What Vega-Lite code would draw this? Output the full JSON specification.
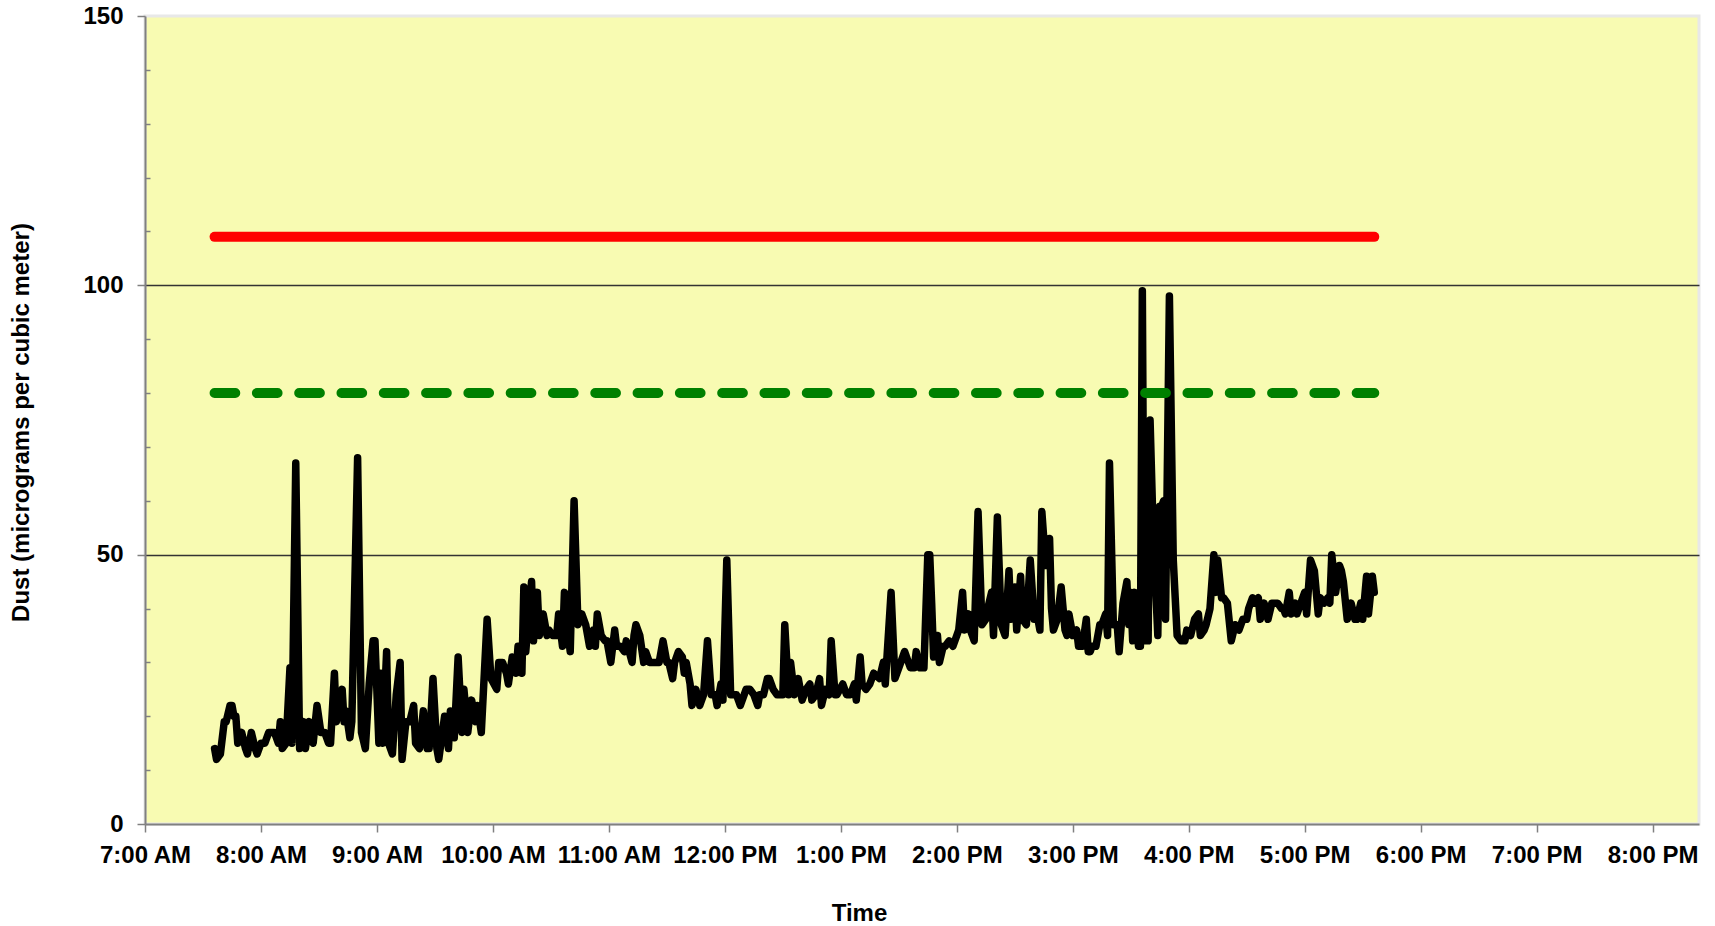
{
  "$schema": "https://vega.github.io/schema/vega-lite/v6.json",
  "width": 1554,
  "height": 808,
  "autosize": {"type": "none"},
  "padding": {"left": 145, "top": 16, "right": 16, "bottom": 102},
  "background": "white",
  "config": {
    "view": {"fill": "#F8FBB2", "stroke": "#E8E8E8", "strokeWidth": 3},
    "axis": {
      "labelFont": "Liberation Sans", "labelFontSize": 24, "labelFontWeight": "bold", "labelColor": "black",
      "titleFont": "Liberation Sans", "titleFontSize": 24, "titleFontWeight": "bold", "titleColor": "black",
      "domainColor": "#808080", "domainWidth": 2, "tickColor": "#808080", "tickWidth": 1.5, "tickSize": 8
    }
  },
  "encoding": {
    "x": {
      "field": "t", "type": "temporal",
      "scale": {"type": "utc", "domain": [
        {"year": 1900, "month": 1, "date": 1, "hours": 7, "minutes": 0, "utc": true},
        {"year": 1900, "month": 1, "date": 1, "hours": 20, "minutes": 24, "utc": true}
      ]},
      "axis": {
        "values": [
          {"year": 1900, "month": 1, "date": 1, "hours": 7, "utc": true},
          {"year": 1900, "month": 1, "date": 1, "hours": 8, "utc": true},
          {"year": 1900, "month": 1, "date": 1, "hours": 9, "utc": true},
          {"year": 1900, "month": 1, "date": 1, "hours": 10, "utc": true},
          {"year": 1900, "month": 1, "date": 1, "hours": 11, "utc": true},
          {"year": 1900, "month": 1, "date": 1, "hours": 12, "utc": true},
          {"year": 1900, "month": 1, "date": 1, "hours": 13, "utc": true},
          {"year": 1900, "month": 1, "date": 1, "hours": 14, "utc": true},
          {"year": 1900, "month": 1, "date": 1, "hours": 15, "utc": true},
          {"year": 1900, "month": 1, "date": 1, "hours": 16, "utc": true},
          {"year": 1900, "month": 1, "date": 1, "hours": 17, "utc": true},
          {"year": 1900, "month": 1, "date": 1, "hours": 18, "utc": true},
          {"year": 1900, "month": 1, "date": 1, "hours": 19, "utc": true},
          {"year": 1900, "month": 1, "date": 1, "hours": 20, "utc": true}
        ],
        "labelExpr": "utcFormat(datum.value, '%-I:%M %p')",
        "labelOverlap": false, "labelFlush": false, "labelBound": false,
        "labelPadding": 11, "grid": false,
        "title": "Time", "titleX": 714, "titleY": 96, "titleBaseline": "alphabetic", "titleAlign": "center", "titleAngle": 0
      }
    }
  },
  "layer": [
    {
      "data": {
        "values": [
          {"t":"07:36","v":14},{"t":"07:37","v":12},{"t":"07:39","v":13},{"t":"07:41","v":19},{"t":"07:42","v":19},
          {"t":"07:44","v":22},{"t":"07:45","v":22},{"t":"07:46","v":20},{"t":"07:47","v":20},{"t":"07:48","v":15},
          {"t":"07:50","v":17},{"t":"07:52","v":14},{"t":"07:53","v":13},{"t":"07:55","v":17},{"t":"07:57","v":14},
          {"t":"07:58","v":13},{"t":"08:00","v":15},{"t":"08:02","v":15},{"t":"08:04","v":17},{"t":"08:07","v":17},
          {"t":"08:09","v":15},{"t":"08:10","v":19},{"t":"08:11","v":14},{"t":"08:13","v":15},{"t":"08:15","v":29},
          {"t":"08:16","v":15},{"t":"08:18","v":67},{"t":"08:20","v":14},{"t":"08:22","v":19},{"t":"08:23","v":14},
          {"t":"08:25","v":19},{"t":"08:27","v":15},{"t":"08:29","v":22},{"t":"08:31","v":17},{"t":"08:33","v":17},
          {"t":"08:35","v":15},{"t":"08:36","v":15},{"t":"08:38","v":28},{"t":"08:39","v":19},{"t":"08:42","v":25},
          {"t":"08:43","v":19},{"t":"08:44","v":21},{"t":"08:46","v":16},{"t":"08:47","v":19},{"t":"08:50","v":68},
          {"t":"08:52","v":17},{"t":"08:54","v":14},{"t":"08:56","v":26},{"t":"08:58","v":34},{"t":"08:59","v":34},
          {"t":"09:01","v":15},{"t":"09:02","v":28},{"t":"09:03","v":15},{"t":"09:05","v":32},{"t":"09:06","v":15},
          {"t":"09:08","v":13},{"t":"09:10","v":24},{"t":"09:12","v":30},{"t":"09:13","v":12},{"t":"09:15","v":19},
          {"t":"09:17","v":19},{"t":"09:19","v":22},{"t":"09:20","v":15},{"t":"09:22","v":14},{"t":"09:24","v":21},
          {"t":"09:26","v":14},{"t":"09:27","v":14},{"t":"09:29","v":27},{"t":"09:31","v":14},{"t":"09:32","v":12},
          {"t":"09:35","v":20},{"t":"09:37","v":14},{"t":"09:38","v":21},{"t":"09:40","v":16},{"t":"09:42","v":31},
          {"t":"09:44","v":17},{"t":"09:45","v":25},{"t":"09:47","v":17},{"t":"09:49","v":23},{"t":"09:51","v":19},
          {"t":"09:52","v":22},{"t":"09:54","v":17},{"t":"09:57","v":38},{"t":"09:59","v":27},{"t":"10:02","v":25},
          {"t":"10:03","v":30},{"t":"10:05","v":30},{"t":"10:07","v":28},{"t":"10:08","v":26},{"t":"10:10","v":31},
          {"t":"10:12","v":28},{"t":"10:13","v":33},{"t":"10:15","v":28},{"t":"10:16","v":44},{"t":"10:17","v":32},
          {"t":"10:19","v":41},{"t":"10:20","v":45},{"t":"10:21","v":34},{"t":"10:23","v":43},{"t":"10:24","v":35},
          {"t":"10:26","v":39},{"t":"10:28","v":35},{"t":"10:29","v":36},{"t":"10:31","v":35},{"t":"10:33","v":35},
          {"t":"10:34","v":39},{"t":"10:36","v":33},{"t":"10:37","v":43},{"t":"10:39","v":35},{"t":"10:40","v":32},
          {"t":"10:42","v":60},{"t":"10:44","v":37},{"t":"10:46","v":39},{"t":"10:48","v":37},{"t":"10:50","v":33},
          {"t":"10:52","v":36},{"t":"10:53","v":33},{"t":"10:54","v":39},{"t":"10:56","v":35},{"t":"10:58","v":34},
          {"t":"10:59","v":34},{"t":"11:01","v":30},{"t":"11:03","v":36},{"t":"11:04","v":33},{"t":"11:06","v":33},
          {"t":"11:08","v":32},{"t":"11:09","v":34},{"t":"11:12","v":30},{"t":"11:13","v":35},{"t":"11:14","v":37},
          {"t":"11:16","v":35},{"t":"11:18","v":30},{"t":"11:19","v":32},{"t":"11:21","v":30},{"t":"11:23","v":30},
          {"t":"11:24","v":30},{"t":"11:26","v":30},{"t":"11:28","v":34},{"t":"11:30","v":30},{"t":"11:31","v":30},
          {"t":"11:33","v":27},{"t":"11:34","v":30},{"t":"11:36","v":32},{"t":"11:38","v":31},{"t":"11:39","v":28},
          {"t":"11:40","v":30},{"t":"11:42","v":26},{"t":"11:43","v":22},{"t":"11:45","v":25},{"t":"11:47","v":22},
          {"t":"11:49","v":24},{"t":"11:51","v":34},{"t":"11:53","v":24},{"t":"11:55","v":24},{"t":"11:56","v":22},
          {"t":"11:58","v":26},{"t":"11:59","v":23},{"t":"12:01","v":49},{"t":"12:03","v":24},{"t":"12:04","v":24},
          {"t":"12:06","v":24},{"t":"12:08","v":22},{"t":"12:10","v":24},{"t":"12:11","v":25},{"t":"12:13","v":25},
          {"t":"12:15","v":24},{"t":"12:17","v":22},{"t":"12:18","v":24},{"t":"12:20","v":24},{"t":"12:22","v":27},
          {"t":"12:23","v":27},{"t":"12:25","v":25},{"t":"12:27","v":24},{"t":"12:28","v":24},{"t":"12:30","v":24},
          {"t":"12:31","v":37},{"t":"12:33","v":24},{"t":"12:34","v":30},{"t":"12:36","v":24},{"t":"12:38","v":27},
          {"t":"12:40","v":23},{"t":"12:42","v":25},{"t":"12:44","v":26},{"t":"12:45","v":23},{"t":"12:47","v":24},
          {"t":"12:49","v":27},{"t":"12:50","v":22},{"t":"12:52","v":25},{"t":"12:54","v":24},{"t":"12:55","v":34},
          {"t":"12:57","v":24},{"t":"12:58","v":24},{"t":"13:01","v":26},{"t":"13:03","v":24},{"t":"13:05","v":24},
          {"t":"13:07","v":26},{"t":"13:08","v":23},{"t":"13:10","v":31},{"t":"13:11","v":26},{"t":"13:13","v":25},
          {"t":"13:15","v":26},{"t":"13:17","v":28},{"t":"13:20","v":27},{"t":"13:22","v":30},{"t":"13:23","v":26},
          {"t":"13:26","v":43},{"t":"13:28","v":27},{"t":"13:29","v":28},{"t":"13:31","v":30},{"t":"13:33","v":32},
          {"t":"13:35","v":30},{"t":"13:36","v":29},{"t":"13:38","v":29},{"t":"13:39","v":32},{"t":"13:41","v":29},
          {"t":"13:43","v":29},{"t":"13:45","v":50},{"t":"13:46","v":50},{"t":"13:47","v":41},{"t":"13:48","v":31},
          {"t":"13:50","v":35},{"t":"13:51","v":30},{"t":"13:53","v":33},{"t":"13:54","v":33},{"t":"13:56","v":34},
          {"t":"13:58","v":33},{"t":"14:00","v":35},{"t":"14:01","v":36},{"t":"14:03","v":43},{"t":"14:04","v":36},
          {"t":"14:06","v":39},{"t":"14:07","v":36},{"t":"14:09","v":34},{"t":"14:11","v":58},{"t":"14:13","v":37},
          {"t":"14:15","v":38},{"t":"14:16","v":40},{"t":"14:18","v":43},{"t":"14:19","v":35},{"t":"14:21","v":57},
          {"t":"14:23","v":37},{"t":"14:25","v":35},{"t":"14:27","v":47},{"t":"14:28","v":38},{"t":"14:30","v":44},
          {"t":"14:31","v":36},{"t":"14:33","v":46},{"t":"14:34","v":38},{"t":"14:36","v":37},{"t":"14:38","v":49},
          {"t":"14:40","v":38},{"t":"14:42","v":38},{"t":"14:43","v":36},{"t":"14:44","v":58},{"t":"14:46","v":48},
          {"t":"14:48","v":53},{"t":"14:49","v":40},{"t":"14:50","v":36},{"t":"14:52","v":38},{"t":"14:54","v":44},
          {"t":"14:56","v":36},{"t":"14:57","v":35},{"t":"14:58","v":39},{"t":"15:00","v":35},{"t":"15:02","v":36},
          {"t":"15:03","v":33},{"t":"15:05","v":33},{"t":"15:07","v":38},{"t":"15:08","v":32},{"t":"15:09","v":32},
          {"t":"15:10","v":33},{"t":"15:12","v":33},{"t":"15:14","v":37},{"t":"15:15","v":37},{"t":"15:17","v":39},
          {"t":"15:18","v":35},{"t":"15:19","v":67},{"t":"15:21","v":37},{"t":"15:23","v":37},{"t":"15:24","v":32},
          {"t":"15:26","v":41},{"t":"15:28","v":45},{"t":"15:29","v":37},{"t":"15:30","v":43},{"t":"15:31","v":34},
          {"t":"15:32","v":43},{"t":"15:34","v":33},{"t":"15:35","v":33},{"t":"15:36","v":99},{"t":"15:37","v":34},
          {"t":"15:38","v":68},{"t":"15:39","v":34},{"t":"15:40","v":75},{"t":"15:42","v":49},{"t":"15:43","v":43},
          {"t":"15:44","v":35},{"t":"15:45","v":59},{"t":"15:46","v":59},{"t":"15:47","v":60},{"t":"15:48","v":38},
          {"t":"15:50","v":98},{"t":"15:52","v":49},{"t":"15:53","v":42},{"t":"15:54","v":35},{"t":"15:56","v":34},
          {"t":"15:58","v":34},{"t":"15:59","v":36},{"t":"16:01","v":35},{"t":"16:03","v":38},{"t":"16:05","v":39},
          {"t":"16:06","v":35},{"t":"16:08","v":36},{"t":"16:09","v":37},{"t":"16:11","v":40},{"t":"16:13","v":50},
          {"t":"16:14","v":43},{"t":"16:15","v":49},{"t":"16:17","v":42},{"t":"16:18","v":42},{"t":"16:20","v":41},
          {"t":"16:22","v":34},{"t":"16:24","v":37},{"t":"16:26","v":36},{"t":"16:28","v":38},{"t":"16:30","v":38},
          {"t":"16:31","v":40},{"t":"16:33","v":42},{"t":"16:34","v":41},{"t":"16:36","v":42},{"t":"16:37","v":38},
          {"t":"16:39","v":41},{"t":"16:41","v":38},{"t":"16:43","v":41},{"t":"16:44","v":41},{"t":"16:46","v":41},
          {"t":"16:48","v":40},{"t":"16:49","v":40},{"t":"16:50","v":39},{"t":"16:52","v":43},{"t":"16:53","v":39},
          {"t":"16:55","v":41},{"t":"16:56","v":39},{"t":"16:58","v":41},{"t":"17:00","v":43},{"t":"17:01","v":39},
          {"t":"17:03","v":49},{"t":"17:05","v":47},{"t":"17:07","v":39},{"t":"17:08","v":42},{"t":"17:10","v":41},
          {"t":"17:12","v":42},{"t":"17:13","v":41},{"t":"17:14","v":50},{"t":"17:16","v":43},{"t":"17:18","v":48},
          {"t":"17:19","v":47},{"t":"17:20","v":45},{"t":"17:22","v":38},{"t":"17:24","v":41},{"t":"17:26","v":38},
          {"t":"17:27","v":38},{"t":"17:29","v":41},{"t":"17:30","v":38},{"t":"17:32","v":46},{"t":"17:33","v":39},
          {"t":"17:35","v":46},{"t":"17:36","v":43}
        ],
        "format": {"parse": {"t": "utc:'%H:%M'"}}
      },
      "mark": {"type": "line", "color": "black", "strokeWidth": 7.5, "strokeJoin": "round", "strokeCap": "round"},
      "encoding": {
        "y": {
          "field": "v", "type": "quantitative",
          "scale": {"domain": [0, 150], "nice": false, "zero": true},
          "axis": {
            "orient": "left",
            "values": [0, 50, 100, 150],
            "tickSize": 8, "labelPadding": 14,
            "grid": true, "gridColor": "#333333", "gridWidth": 1.5,
            "gridOpacity": {"condition": {"test": "datum.value == 50 || datum.value == 100", "value": 1}, "value": 0},
            "title": "Dust (micrograms per cubic meter)",
            "titleX": -117, "titleY": 406, "titleAngle": -90, "titleBaseline": "alphabetic", "titleAlign": "center"
          }
        }
      }
    },
    {
      "data": {"values": [{"t": "07:36", "v": 80}, {"t": "17:36", "v": 80}], "format": {"parse": {"t": "utc:'%H:%M'"}}},
      "mark": {"type": "line", "color": "#008000", "strokeWidth": 10, "strokeCap": "round", "strokeDash": [20.7, 21.6]},
      "encoding": {
        "y": {"field": "v", "type": "quantitative", "scale": {"domain": [0, 150], "nice": false, "zero": true}, "axis": null}
      }
    },
    {
      "data": {"values": [{"t": "07:36", "v": 109}, {"t": "17:36", "v": 109}], "format": {"parse": {"t": "utc:'%H:%M'"}}},
      "mark": {"type": "line", "color": "#FF0000", "strokeWidth": 10, "strokeCap": "round"},
      "encoding": {
        "y": {
          "field": "v", "type": "quantitative",
          "scale": {"domain": [0, 150], "nice": false, "zero": true},
          "axis": {
            "orient": "left",
            "values": [10, 20, 30, 40, 60, 70, 80, 90, 110, 120, 130, 140],
            "labels": false, "domain": false, "grid": false, "ticks": true,
            "tickSize": -5, "title": null
          }
        }
      }
    }
  ],
  "resolve": {"axis": {"y": "independent"}}
}
